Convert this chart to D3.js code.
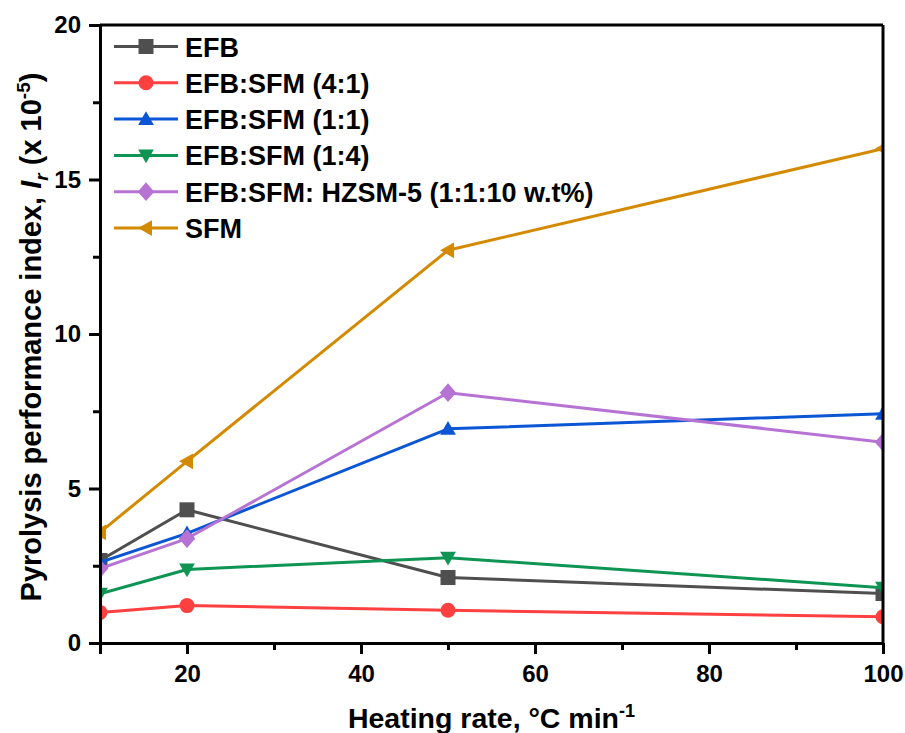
<!doctype html>
<html lang="en">
<head>
<meta charset="utf-8">
<title>Pyrolysis performance index</title>
<script src="https://d3js.org/d3.v7.min.js"></script>
<style>
body { margin: 0; background: #fff; }
svg { font-family: "Liberation Sans", Arial, sans-serif; font-weight: bold; }
.axis path, .axis line { stroke: #000; stroke-width: 3px; }
.axis text { font-size: 24px; fill: #000; }
</style>
</head>
<body>
<div id="chart"></div>
<script>
// heating rates (x) and index values (y, x 10^-5)
var rates = [10, 20, 50, 100];
var seriesNames = ["EFB", "EFB:SFM (4:1)", "EFB:SFM (1:1)", "EFB:SFM (1:4)", "EFB:SFM: HZSM-5 (1:1:10 w.t%)", "SFM"];
var efb      = [2.67, 4.31, 2.12, 1.60];
var efbSfm41 = [0.99, 1.21, 1.06, 0.85];
var efbSfm11 = [2.61, 3.55, 6.93, 7.42];
var efbSfm14 = [1.59, 2.38, 2.76, 1.79];
var hzsm     = [2.41, 3.38, 8.10, 6.50];
var sfm      = [3.58, 5.88, 12.71, 16.00];
var colors = ["#4f4f4f", "#ff4040", "#0b56d4", "#0e9453", "#b673d4", "#d48a00"];
var shapes = ["square", "circle", "triUp", "triDown", "diamond", "triLeft"];
var xTicks = [20, 40, 60, 80, 100];
var yTicks = [0, 5, 10, 15, 20];

var allSeries = [efb, efbSfm41, efbSfm11, efbSfm14, hzsm, sfm];

var W = 905, H = 733;
var margin = {left: 100, right: 22, top: 25, bottom: 90};
var width = W - margin.left - margin.right,
    height = H - margin.top - margin.bottom;

var svg = d3.select("#chart").append("svg")
    .attr("width", W).attr("height", H);

var g = svg.append("g")
    .attr("transform", "translate(" + margin.left + "," + margin.top + ")");

var x = d3.scaleLinear().domain([10, 100]).range([0, width]);
var y = d3.scaleLinear().domain([0, 20]).range([height, 0]);

// clip so the edge markers are cut like in the original
g.append("clipPath").attr("id", "plotclip")
  .append("rect").attr("width", width).attr("height", height);

// marker symbol paths
function symbolPath(shape, s) {
    var h = s / 2;
    switch (shape) {
        case "square": return "M" + (-h) + "," + (-h) + "h" + s + "v" + s + "h" + (-s) + "Z";
        case "circle": return d3.symbol().type(d3.symbolCircle).size(Math.PI * h * h)();
        case "triUp": return "M0," + (-h * 1.05) + "L" + (h * 1.05) + "," + (h * 0.8) + "L" + (-h * 1.05) + "," + (h * 0.8) + "Z";
        case "triDown": return "M0," + (h * 1.05) + "L" + (h * 1.05) + "," + (-h * 0.8) + "L" + (-h * 1.05) + "," + (-h * 0.8) + "Z";
        case "diamond": return "M0," + (-h * 1.25) + "L" + (h * 1.1) + ",0L0," + (h * 1.25) + "L" + (-h * 1.1) + ",0Z";
        case "triLeft": return "M" + (-h * 1.05) + ",0L" + (h * 0.8) + "," + (-h * 1.05) + "L" + (h * 0.8) + "," + (h * 1.05) + "Z";
    }
}

var line = d3.line()
    .x(function(d, i) { return x(rates[i]); })
    .y(function(d) { return y(d); });

var plot = g.append("g").attr("clip-path", "url(#plotclip)");

allSeries.forEach(function(vals, k) {
    plot.append("path")
        .datum(vals)
        .attr("fill", "none")
        .attr("stroke", colors[k])
        .attr("stroke-width", 3)
        .attr("stroke-linejoin", "round")
        .attr("d", line);
    plot.selectAll(".m" + k)
        .data(vals)
      .enter().append("path")
        .attr("class", "m" + k)
        .attr("transform", function(d, i) { return "translate(" + x(rates[i]) + "," + y(d) + ")"; })
        .attr("d", symbolPath(shapes[k], 15))
        .attr("fill", colors[k]);
});

// frame top and right
g.append("line").attr("x1", 0).attr("x2", width).attr("y1", 0).attr("y2", 0)
    .attr("stroke", "#000").attr("stroke-width", 3);
g.append("line").attr("x1", width).attr("x2", width).attr("y1", 0).attr("y2", height)
    .attr("stroke", "#000").attr("stroke-width", 3);

// minor ticks
var xMinor = [30, 50, 70, 90];
var yMinor = [2.5, 7.5, 12.5, 17.5];
g.append("g").attr("class", "axis")
    .attr("transform", "translate(0," + height + ")")
    .call(d3.axisBottom(x).tickValues(xMinor).tickSize(7).tickFormat(""))
    .select(".domain").remove();
g.append("g").attr("class", "axis")
    .call(d3.axisLeft(y).tickValues(yMinor).tickSize(7).tickFormat(""))
    .select(".domain").remove();

// major axes
g.append("g").attr("class", "axis")
    .attr("transform", "translate(0," + height + ")")
    .call(d3.axisBottom(x).tickValues([10].concat(xTicks)).tickSize(11).tickSizeOuter(0)
        .tickPadding(11).tickFormat(function(d) { return d === 10 ? "" : d; }));
g.append("g").attr("class", "axis")
    .call(d3.axisLeft(y).tickValues(yTicks).tickSize(11).tickSizeOuter(0).tickPadding(8));

// axis titles
var xt = svg.append("text")
    .attr("x", margin.left + width / 2 + 0)
    .attr("y", 728)
    .attr("text-anchor", "middle")
    .style("font-size", "28.5px");
xt.append("tspan").text("Heating rate, \u00B0C min");
xt.append("tspan").attr("dy", -11).style("font-size", "18px").text("-1");

var yt = svg.append("text")
    .attr("transform", "translate(41," + (margin.top + height / 2 + 3) + ") rotate(-90)")
    .attr("text-anchor", "middle")
    .style("font-size", "29px");
yt.append("tspan").text("Pyrolysis performance index, ");
yt.append("tspan").style("font-style", "italic").text("I");
yt.append("tspan").attr("dy", 7).style("font-size", "19px").style("font-style", "italic").text("r");
yt.append("tspan").attr("dy", -7).text(" (x 10");
yt.append("tspan").attr("dy", -11).style("font-size", "19px").text("-5");
yt.append("tspan").attr("dy", 11).text(")");

// legend
var legend = g.append("g").attr("transform", "translate(14,21.5)");
seriesNames.forEach(function(name, k) {
    var row = legend.append("g").attr("transform", "translate(0," + (k * 36.3) + ")");
    row.append("line").attr("x1", 0).attr("x2", 64).attr("y1", 0).attr("y2", 0)
        .attr("stroke", colors[k]).attr("stroke-width", 3);
    row.append("path").attr("transform", "translate(32,0)")
        .attr("d", symbolPath(shapes[k], 15)).attr("fill", colors[k]);
    row.append("text").attr("x", 71).attr("y", 10)
        .style("font-size", "27px").text(name);
});
</script>
</body>
</html>
